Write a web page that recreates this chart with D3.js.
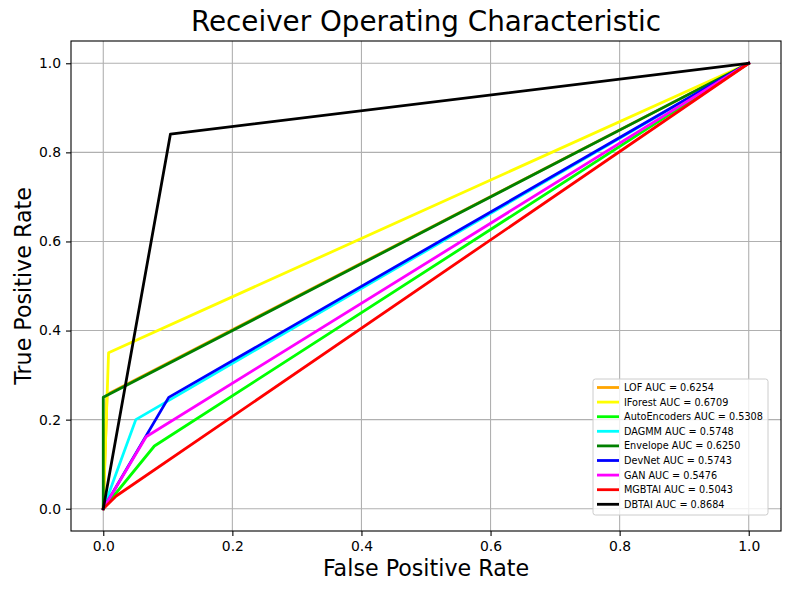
<!DOCTYPE html>
<html>
<head>
<meta charset="utf-8">
<script src="https://cdn.jsdelivr.net/npm/d3@7"></script>
<style>
  html, body { margin: 0; padding: 0; background: #fff; }
  svg { display: block; font-family: "DejaVu Sans", sans-serif; }
</style>
</head>
<body>
<svg id="chart" width="789" height="590"></svg>
<script>
// ============================================
// ROC curves - one operating point per model
// ============================================

const models = ['LOF', 'IForest', 'AutoEncoders', 'DAGMM', 'Envelope', 'DevNet', 'GAN', 'MGBTAI', 'DBTAI'];
const colors = ['orange', 'yellow', 'lime', 'cyan', 'green', 'blue', 'magenta', 'red', 'black'];
const aucs = [0.6254, 0.6709, 0.5308, 0.5748, 0.6250, 0.5743, 0.5476, 0.5043, 0.8684];

// fpr / tpr at the threshold point (curve is 0 -> point -> 1)
const fprs = [0.0058, 0.0082, 0.0792, 0.0504, 0.0, 0.1014, 0.0664, 0.0200, 0.1040];
const tprs = [0.2566, 0.3500, 0.1408, 0.2000, 0.2500, 0.2500, 0.1616, 0.0286, 0.8408];

const ticks = [0.0, 0.2, 0.4, 0.6, 0.8, 1.0];

const svg = d3.select('#chart');
const margin = { left: 71, right: 8, top: 41, bottom: 59 };
const width = 789 - margin.left - margin.right;
const height = 590 - margin.top - margin.bottom;

const x = d3.scaleLinear().domain([-0.05, 1.05]).range([0, width]);
const y = d3.scaleLinear().domain([-0.05, 1.05]).range([height, 0]);

const g = svg.append('g').attr('transform', `translate(${margin.left},${margin.top})`);

// Grid
g.append('g')
    .selectAll('line')
    .data(ticks)
    .join('line')
    .attr('x1', d => x(d)).attr('x2', d => x(d))
    .attr('y1', 0).attr('y2', height)
    .attr('stroke', '#b0b0b0').attr('stroke-width', 1.1);

g.append('g')
    .selectAll('line')
    .data(ticks)
    .join('line')
    .attr('y1', d => y(d)).attr('y2', d => y(d))
    .attr('x1', 0).attr('x2', width)
    .attr('stroke', '#b0b0b0').attr('stroke-width', 1.1);

// Curves
const line = d3.line().x(d => x(d[0])).y(d => y(d[1]));

g.append('g')
    .selectAll('path')
    .data(models.map((m, i) => [[0, 0], [fprs[i], tprs[i]], [1, 1]]))
    .join('path')
    .attr('d', line)
    .attr('fill', 'none')
    .attr('stroke', (d, i) => colors[i])
    .attr('stroke-width', 2.8)
    .attr('stroke-linejoin', 'round')
    .attr('stroke-linecap', 'square');

// Axes
const xAxis = g.append('g')
    .attr('transform', `translate(0,${height})`)
    .call(d3.axisBottom(x).tickValues(ticks).tickFormat(d3.format('.1f')).tickSize(5).tickPadding(5));

const yAxis = g.append('g')
    .call(d3.axisLeft(y).tickValues(ticks).tickFormat(d3.format('.1f')).tickSize(5).tickPadding(5));

[xAxis, yAxis].forEach(a => {
    a.select('.domain').remove();
    a.selectAll('line').attr('stroke', '#000').attr('stroke-width', 1.1);
    a.selectAll('text')
        .attr('fill', '#000')
        .style('font-size', '13.9px')
        .style('font-family', '"DejaVu Sans", sans-serif');
});

// Frame
g.append('rect')
    .attr('width', width).attr('height', height)
    .attr('fill', 'none').attr('stroke', '#000').attr('stroke-width', 1.1);

// Title and labels
svg.append('text')
    .attr('x', margin.left + width / 2).attr('y', 31)
    .attr('text-anchor', 'middle')
    .style('font-size', '27.8px')
    .text('Receiver Operating Characteristic');

svg.append('text')
    .attr('x', margin.left + width / 2).attr('y', 576)
    .attr('text-anchor', 'middle')
    .style('font-size', '22.2px')
    .text('False Positive Rate');

svg.append('text')
    .attr('transform', `translate(31,${margin.top + height / 2}) rotate(-90)`)
    .attr('text-anchor', 'middle')
    .style('font-size', '22.2px')
    .text('True Positive Rate');

// Legend
const legend = svg.append('g').attr('transform', 'translate(593,379)');

legend.append('rect')
    .attr('width', 175).attr('height', 136)
    .attr('rx', 2.5)
    .attr('fill', 'rgba(255,255,255,0.8)')
    .attr('stroke', '#cccccc').attr('stroke-width', 1);

const item = legend.selectAll('g.item')
    .data(models)
    .join('g')
    .attr('class', 'item')
    .attr('transform', (d, i) => `translate(0,${8.5 + i * 14.6})`);

item.append('line')
    .attr('x1', 4).attr('x2', 26)
    .attr('stroke', (d, i) => colors[i])
    .attr('stroke-width', 2.8);

item.append('text')
    .attr('x', 31).attr('dy', '0.35em')
    .style('font-size', '9.7px')
    .text((d, i) => `${d} AUC = ${aucs[i].toFixed(4)}`);
</script>
</body>
</html>
